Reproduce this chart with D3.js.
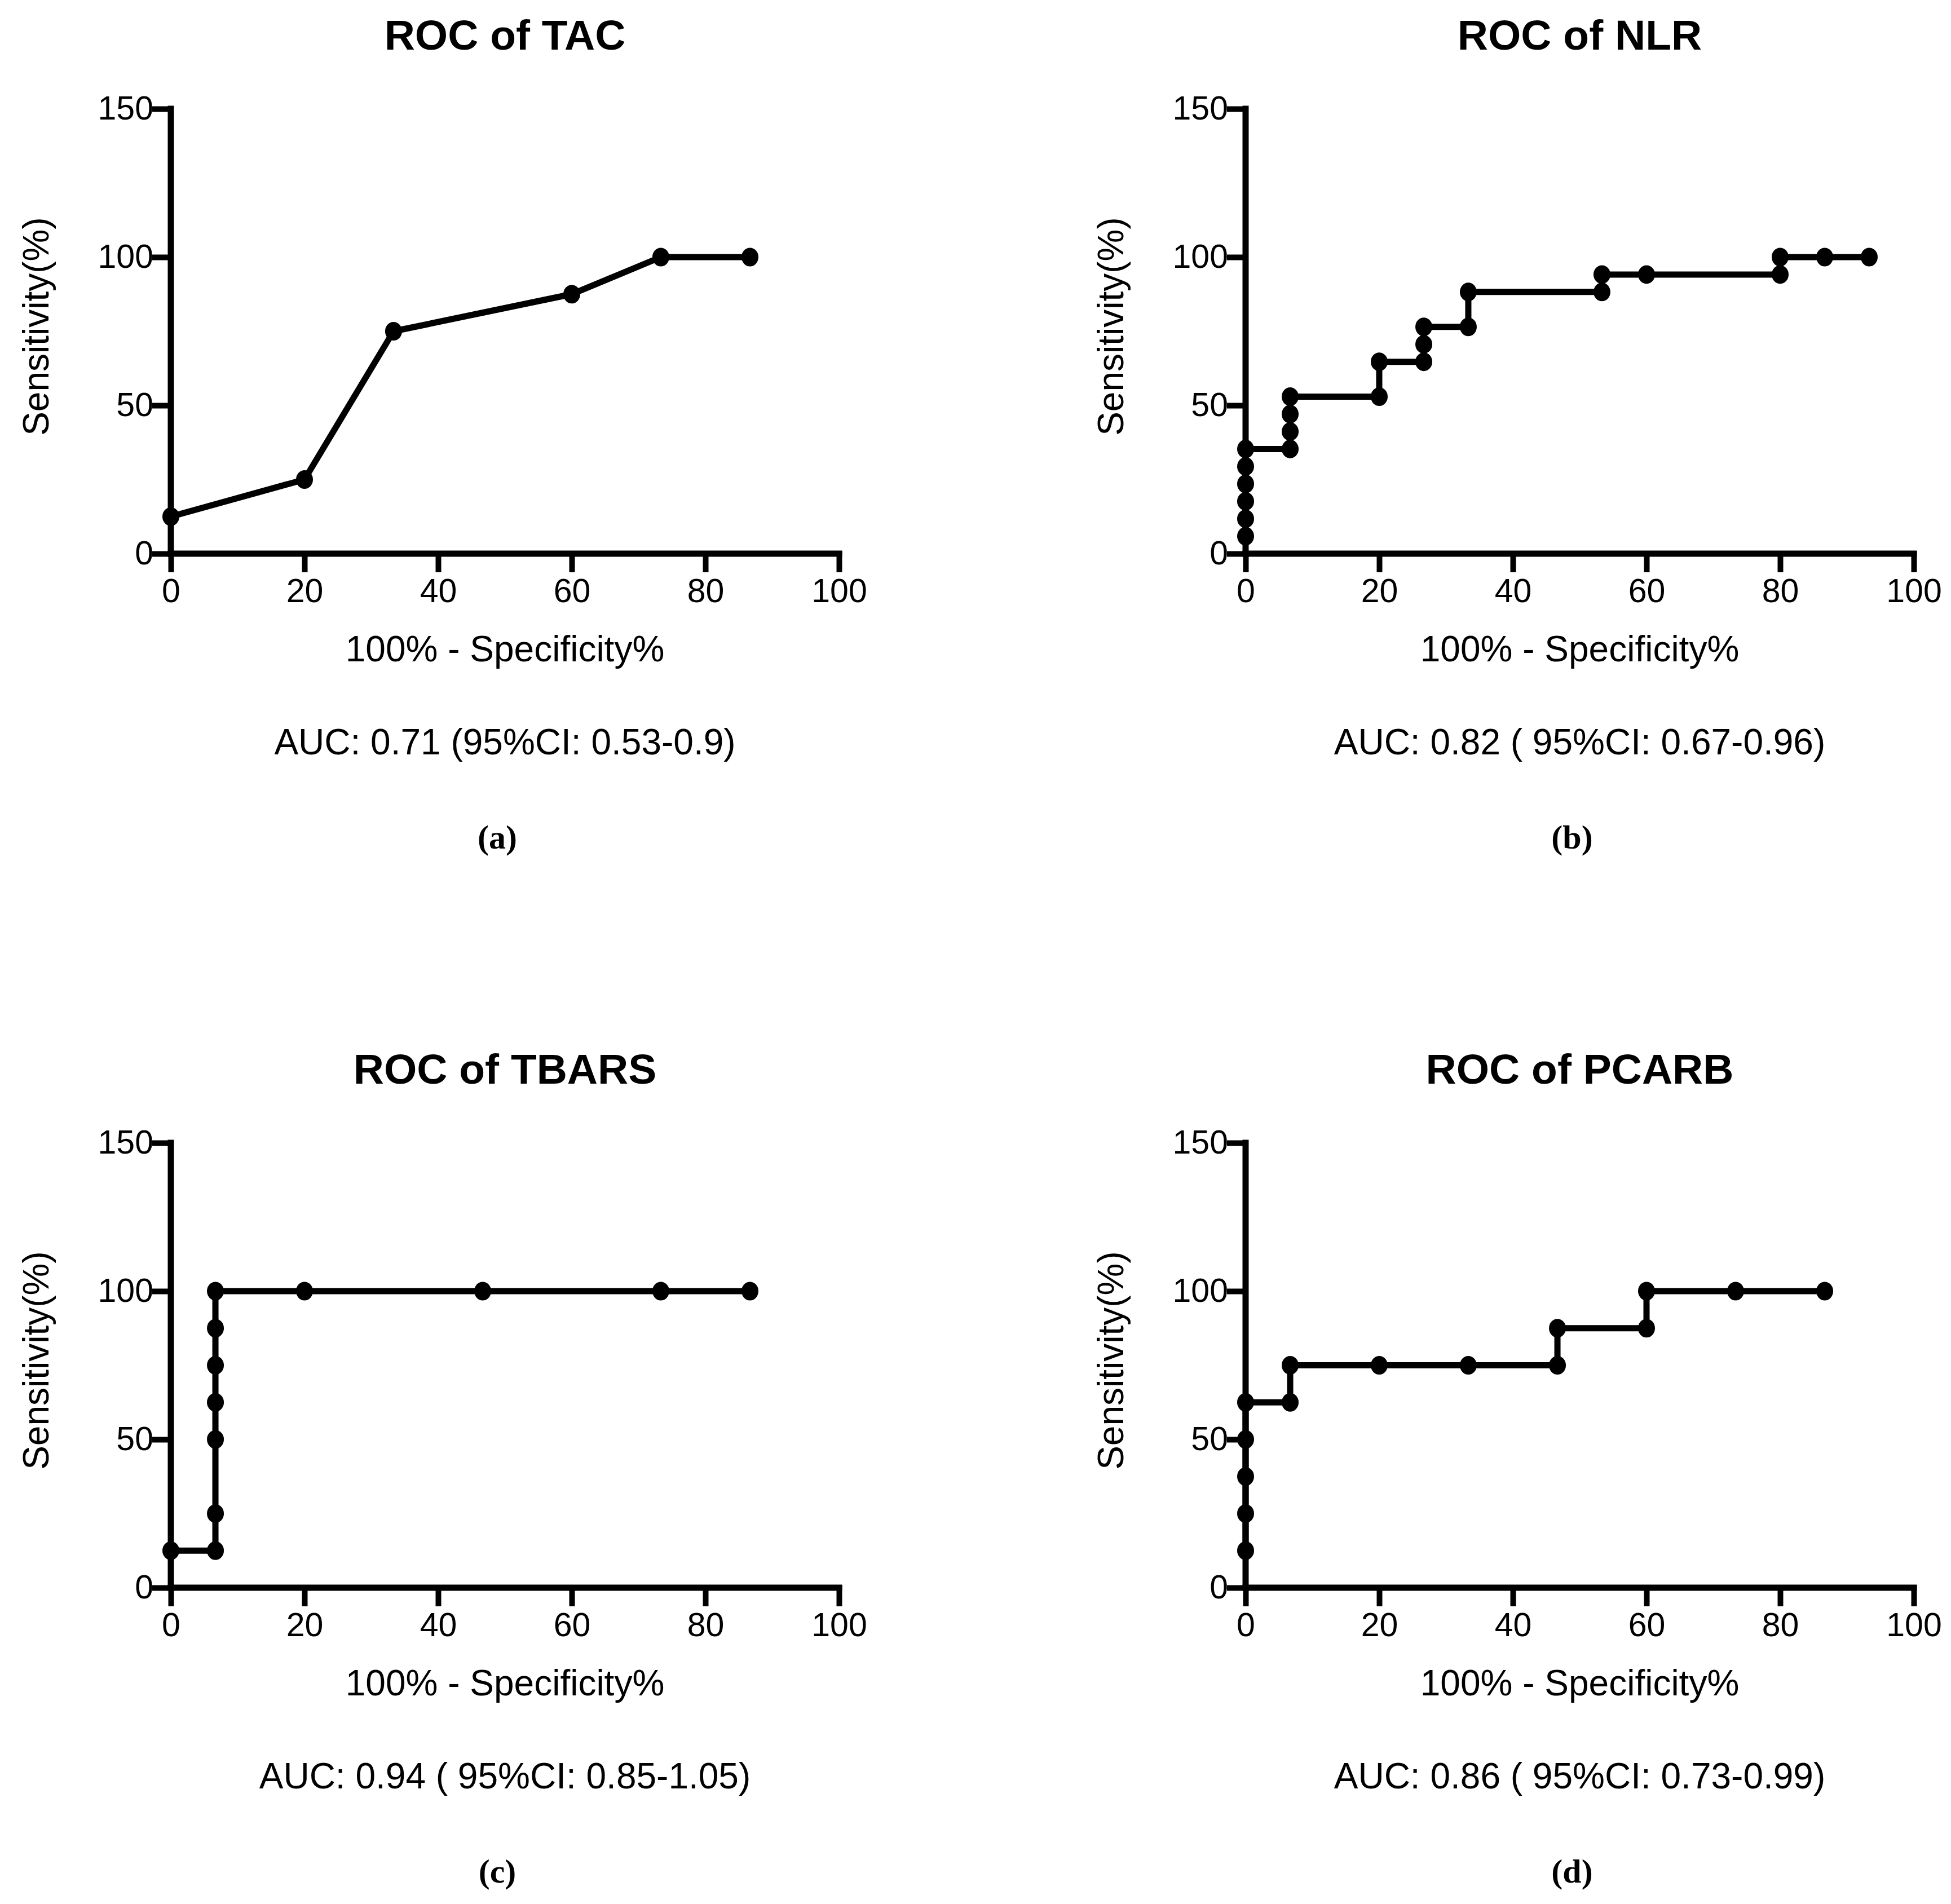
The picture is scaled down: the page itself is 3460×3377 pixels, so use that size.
<!DOCTYPE html>
<html>
<head>
<meta charset="utf-8">
<script src="https://cdn.jsdelivr.net/npm/d3@7"></script>
<style>
  body { margin: 0; background: #fff; }
  text { font-family: "Liberation Sans", Arial, sans-serif; fill: #000; }
</style>
</head>
<body>
<svg id="chart"></svg>
<script>
// ROC points: x = 100% - Specificity%, y = Sensitivity%
const tacX = [0, 20, 33.33, 60, 73.33, 86.67];
const tacY = [12.5, 25, 75, 87.5, 100, 100];

const nlrX = [0, 0, 0, 0, 0, 0, 6.67, 6.67, 6.67, 6.67, 20, 20, 26.67, 26.67, 26.67, 33.33, 33.33, 53.33, 53.33, 60, 80, 80, 86.67, 93.33];
const nlrY = [5.88, 11.76, 17.65, 23.53, 29.41, 35.29, 35.29, 41.18, 47.06, 52.94, 52.94, 64.71, 64.71, 70.59, 76.47, 76.47, 88.24, 88.24, 94.12, 94.12, 94.12, 100, 100, 100];

const tbarsX = [0, 6.67, 6.67, 6.67, 6.67, 6.67, 6.67, 6.67, 20, 46.67, 73.33, 86.67];
const tbarsY = [12.5, 12.5, 25, 50, 62.5, 75, 87.5, 100, 100, 100, 100, 100];

const pcarbX = [0, 0, 0, 0, 0, 6.67, 6.67, 20, 33.33, 46.67, 46.67, 60, 60, 73.33, 86.67];
const pcarbY = [12.5, 25, 37.5, 50, 62.5, 62.5, 75, 75, 75, 75, 87.5, 87.5, 100, 100, 100];

const titles = ["ROC of TAC", "ROC of NLR", "ROC of TBARS", "ROC of PCARB"];
const aucLabels = [
  "AUC: 0.71 (95%CI: 0.53-0.9)",
  "AUC: 0.82 ( 95%CI: 0.67-0.96)",
  "AUC: 0.94 ( 95%CI: 0.85-1.05)",
  "AUC: 0.86 ( 95%CI: 0.73-0.99)"
];
const panelLetters = ["(a)", "(b)", "(c)", "(d)"];
const xTicks = [0, 20, 40, 60, 80, 100];
const yTicks = [0, 50, 100, 150];

const W = 3460, H = 3377;
const plotW = 1185, plotH = 789;
const lefts = [303, 2209, 303, 2209];
const tops = [193, 193, 2027, 2027];
const series = [[tacX, tacY], [nlrX, nlrY], [tbarsX, tbarsY], [pcarbX, pcarbY]];

const svg = d3.select("#chart")
  .attr("width", W)
  .attr("height", H)
  .style("background", "#fff");

const x = d3.scaleLinear().domain([0, 100]).range([0, plotW]);
const y = d3.scaleLinear().domain([0, 150]).range([plotH, 0]);

series.forEach((s, i) => {
  const g = svg.append("g")
    .attr("transform", `translate(${lefts[i]}, ${tops[i]})`);

  const pts = s[0].map((v, j) => ({ x: v, y: s[1][j] }));

  // axes
  const xAxis = g.append("g")
    .attr("transform", `translate(0, ${plotH})`)
    .call(d3.axisBottom(x).tickValues(xTicks).tickSize(28).tickSizeOuter(0).tickPadding(16));
  const yAxis = g.append("g")
    .call(d3.axisLeft(y).tickValues(yTicks).tickSize(28).tickSizeOuter(0).tickPadding(3));

  [xAxis, yAxis].forEach(a => {
    a.select(".domain").attr("stroke", "#000").attr("stroke-width", 11).attr("stroke-linecap", "square");
    a.selectAll(".tick line").attr("stroke", "#000").attr("stroke-width", 10).attr("stroke-linecap", "square");
    a.selectAll(".tick text")
      .style("font-family", '"Liberation Sans", Arial, sans-serif')
      .attr("font-size", 59)
      .attr("fill", "#000");
  });
  xAxis.select(".domain").attr("d", `M0,0H${plotW}`);
  yAxis.select(".domain").attr("d", `M0,${plotH}V0`);

  // curve
  const line = d3.line().x(d => x(d.x)).y(d => y(d.y));
  g.append("path")
    .datum(pts)
    .attr("d", line)
    .attr("fill", "none")
    .attr("stroke", "#000")
    .attr("stroke-width", 11)
    .attr("stroke-linejoin", "round");

  g.selectAll(".dot")
    .data(pts)
    .join("ellipse")
    .attr("class", "dot")
    .attr("cx", d => x(d.x))
    .attr("cy", d => y(d.y))
    .attr("rx", 15)
    .attr("ry", 16.5)
    .attr("fill", "#000");

  // texts
  g.append("text")
    .attr("x", plotW / 2)
    .attr("y", -105)
    .attr("text-anchor", "middle")
    .attr("font-size", 75)
    .attr("font-weight", "bold")
    .text(titles[i]);

  g.append("text")
    .attr("transform", `translate(-217, ${386}) rotate(-90)`)
    .attr("text-anchor", "middle")
    .attr("font-size", 64)
    .text("Sensitivity(%)");

  g.append("text")
    .attr("x", plotW / 2)
    .attr("y", plotH + 191)
    .attr("text-anchor", "middle")
    .attr("font-size", 64)
    .text("100% - Specificity%");

  g.append("text")
    .attr("x", plotW / 2)
    .attr("y", plotH + 356)
    .attr("text-anchor", "middle")
    .attr("font-size", 64)
    .text(aucLabels[i]);

  g.append("text")
    .attr("x", 579)
    .attr("y", plotH + 523)
    .attr("text-anchor", "middle")
    .attr("font-size", 60)
    .attr("font-weight", "bold")
    .style("font-family", '"Liberation Serif", "Times New Roman", serif')
    .text(panelLetters[i]);
});
</script>
</body>
</html>
